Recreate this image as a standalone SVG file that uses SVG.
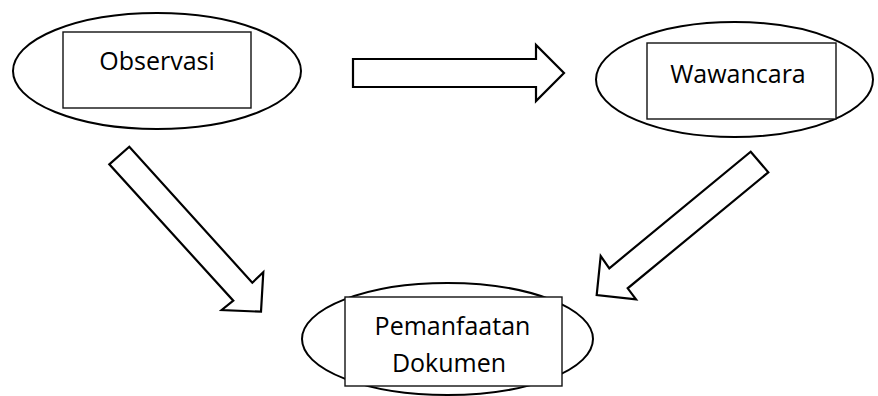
<svg xmlns="http://www.w3.org/2000/svg" width="878" height="396" viewBox="0 0 878 396">
<style>
.ell{fill:#fff;stroke:#000;stroke-width:2}
.box{fill:#fff;stroke:#111;stroke-width:1.4}
.arr{fill:#fff;stroke:#000;stroke-width:2.2;stroke-linejoin:miter}
.t{font-family:"Open Sans","Liberation Sans",sans-serif;font-size:25px;fill:#000;text-anchor:middle}
</style>
<rect width="878" height="396" fill="#fff"/>
<g id="connectors">
<polygon class="arr" points="353,59 536,59 536,45 564,73 536,101 536,87 353,87"/>
<polygon class="arr" points="109.3,164.3 129.3,146.7 252.3,282.7 263.3,272.3 261,311.7 221.7,310 233.3,300.7"/>
<polygon class="arr" points="750.7,151.7 768.3,172.3 627.7,288.3 636,299.3 596.7,295 600.7,256 609.3,268.3"/>
</g>
<g id="observasi">
<ellipse class="ell" cx="157" cy="71" rx="144" ry="58"/>
<rect class="box" x="63" y="32" width="188" height="76"/>
<text class="t" x="157" y="70">Observasi</text>
</g>
<g id="wawancara">
<ellipse class="ell" cx="734.5" cy="79.5" rx="138.5" ry="57.5"/>
<rect class="box" x="647" y="43" width="189" height="76"/>
<text class="t" x="738" y="83">Wawancara</text>
</g>
<g id="pemanfaatan">
<ellipse class="ell" cx="447.5" cy="339" rx="145.5" ry="56"/>
<rect class="box" x="345" y="297" width="217" height="89"/>
<text class="t" x="452.5" y="335">Pemanfaatan</text>
<text class="t" x="449" y="371.5">Dokumen</text>
</g>
</svg>
